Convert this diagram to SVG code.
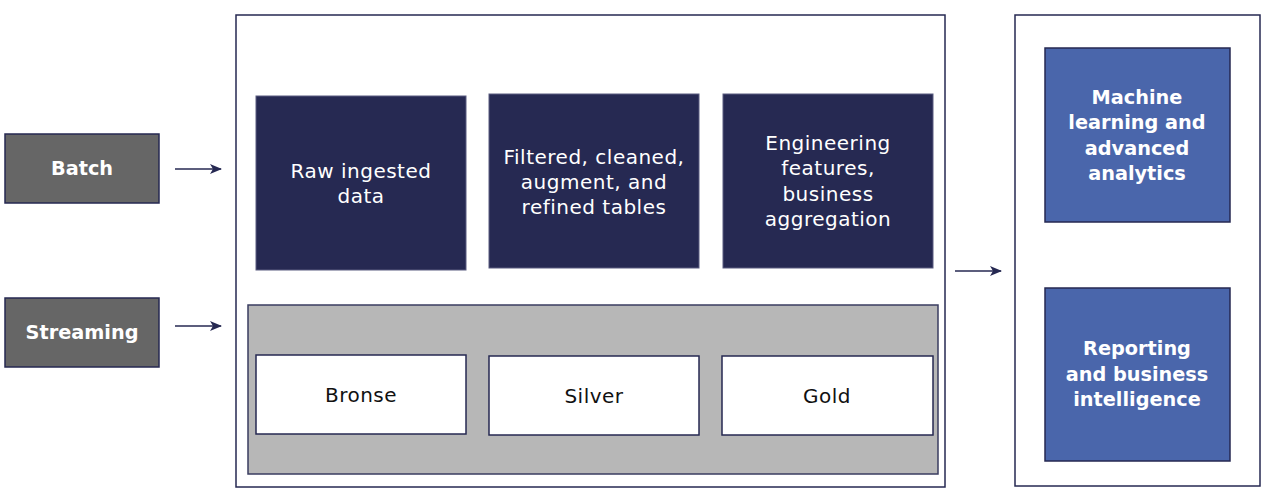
<svg xmlns="http://www.w3.org/2000/svg" width="1274" height="504" viewBox="0 0 1274 504">
<style>
.src{fill:#666666;stroke:#262952;stroke-width:1.5}
.cont{fill:#ffffff;stroke:#262952;stroke-width:1.5}
.dark{fill:#262952;stroke:#5a5d80;stroke-width:1}
.band{fill:#b7b7b7;stroke:#3a3d60;stroke-width:1.5}
.tier{fill:#ffffff;stroke:#262952;stroke-width:1.5}
.blue{fill:#4a66ab;stroke:#262952;stroke-width:1.5}
.tb{font-family:"DejaVu Sans","Open Sans",sans-serif;font-weight:700;font-size:19.3px;fill:#ffffff;text-anchor:middle}
.tw{font-family:"DejaVu Sans","Open Sans",sans-serif;font-size:20px;letter-spacing:0.5px;fill:#ffffff;text-anchor:middle}
.tk{font-family:"DejaVu Sans","Open Sans",sans-serif;font-size:20px;letter-spacing:0.5px;fill:#111111;text-anchor:middle}
.conn{stroke:#262952;stroke-width:1.3;fill:none}
</style>
<defs>
<marker id="ah" viewBox="0 0 12 10" refX="11" refY="5" markerWidth="12" markerHeight="10" markerUnits="userSpaceOnUse" orient="auto">
<path d="M0,0 L12,5 L0,10 L3,5 Z" fill="#262952"/>
</marker>
</defs>
<g id="batch">
<rect class="src" x="5" y="134" width="154" height="69"/>
<text class="tb" x="82" y="175">Batch</text>
</g>
<g id="streaming">
<rect class="src" x="5" y="298" width="154" height="69"/>
<text class="tb" x="82" y="339">Streaming</text>
</g>
<g id="lakehouse">
<rect class="cont" x="236" y="15" width="709" height="472"/>
<rect class="band" x="248" y="305" width="690" height="169"/>
</g>
<g id="raw">
<rect class="dark" x="256" y="96" width="210" height="174"/>
<text class="tw" x="361" y="178">Raw ingested</text>
<text class="tw" x="361" y="203">data</text>
</g>
<g id="filtered">
<rect class="dark" x="489" y="94" width="210" height="174"/>
<text class="tw" x="594" y="164">Filtered, cleaned,</text>
<text class="tw" x="594" y="189">augment, and</text>
<text class="tw" x="594" y="214">refined tables</text>
</g>
<g id="engineering">
<rect class="dark" x="723" y="94" width="210" height="174"/>
<text class="tw" x="828" y="150">Engineering</text>
<text class="tw" x="828" y="175">features,</text>
<text class="tw" x="828" y="201">business</text>
<text class="tw" x="828" y="226">aggregation</text>
</g>
<g id="bronse">
<rect class="tier" x="256" y="355" width="210" height="79"/>
<text class="tk" x="361" y="402">Bronse</text>
</g>
<g id="silver">
<rect class="tier" x="489" y="356" width="210" height="79"/>
<text class="tk" x="594" y="403">Silver</text>
</g>
<g id="gold">
<rect class="tier" x="722" y="356" width="211" height="79"/>
<text class="tk" x="827" y="403">Gold</text>
</g>
<g id="consumers">
<rect class="cont" x="1015" y="15" width="245" height="471"/>
</g>
<g id="ml">
<rect class="blue" x="1045" y="48" width="185" height="174"/>
<text class="tb" x="1137" y="104">Machine</text>
<text class="tb" x="1137" y="129">learning and</text>
<text class="tb" x="1137" y="155">advanced</text>
<text class="tb" x="1137" y="180">analytics</text>
</g>
<g id="reporting">
<rect class="blue" x="1045" y="288" width="185" height="173"/>
<text class="tb" x="1137" y="355">Reporting</text>
<text class="tb" x="1137" y="381">and business</text>
<text class="tb" x="1137" y="406">intelligence</text>
</g>
<g id="connectors">
<line class="conn" x1="175" y1="169" x2="221" y2="169" marker-end="url(#ah)"/>
<line class="conn" x1="175" y1="326" x2="221" y2="326" marker-end="url(#ah)"/>
<line class="conn" x1="955" y1="271" x2="1001" y2="271" marker-end="url(#ah)"/>
</g>
</svg>
